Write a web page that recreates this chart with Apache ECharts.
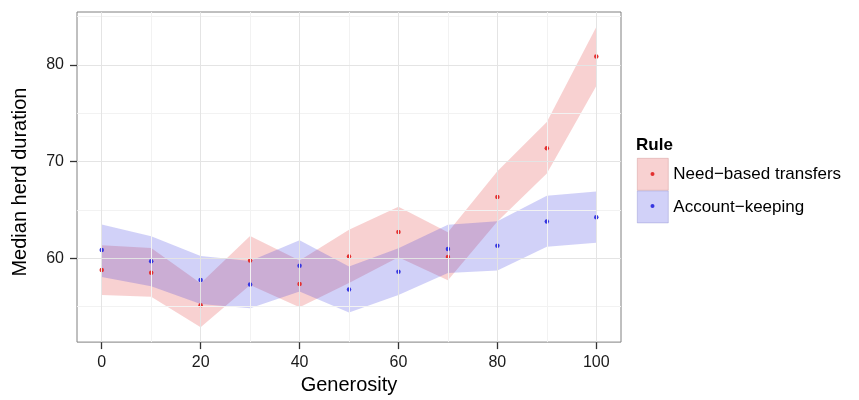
<!DOCTYPE html>
<html>
<head>
<meta charset="utf-8">
<script src="https://cdn.jsdelivr.net/npm/echarts@6/dist/echarts.min.js"></script>
<style>
html,body{margin:0;padding:0;background:#fff;}
#chart{width:859px;height:400px;}
</style>
</head>
<body>
<div id="chart"></div>
<script>
// ---- data ----
const generosity = [0, 10, 20, 30, 40, 50, 60, 70, 80, 90, 100];
const needMedian = [58.78, 58.51, 55.15, 59.77, 57.35, 60.20, 62.72, 60.14, 66.35, 71.37, 80.85];
const needLower  = [56.20, 56.03, 52.87, 57.24, 54.93, 57.45, 60.10, 57.73, 63.80, 68.76, 77.80];
const needUpper  = [61.36, 61.06, 57.43, 62.30, 59.77, 62.95, 65.34, 62.70, 69.00, 74.09, 83.90];
const acctMedian = [60.85, 59.70, 57.76, 57.29, 59.22, 56.78, 58.61, 60.96, 61.29, 63.80, 64.25];
const acctLower  = [58.07, 57.12, 55.28, 54.85, 56.57, 54.40, 56.20, 58.47, 58.75, 61.20, 61.60];
const acctUpper  = [63.50, 62.28, 60.24, 59.73, 61.87, 59.16, 61.05, 63.46, 63.83, 66.46, 66.90];
const xTicks = [0, 20, 40, 60, 80, 100];
const xMinor = [10, 30, 50, 70, 90];
const yTicks = [60, 70, 80];
const yMinor = [55, 65, 75, 85];
const seriesNames = ['Need\u2212based transfers', 'Account\u2212keeping'];

const FONT = "'Liberation Sans', Arial, sans-serif";
const bandRed = 'rgba(225,45,45,0.22)';
const bandBlue = 'rgba(45,45,225,0.22)';
const ptRed = '#e33030';
const ptBlue = '#3636e0';

function bandRenderer(lower, upper, color) {
  return function (params, api) {
    const pts = [];
    for (let i = 0; i < generosity.length; i++) pts.push(api.coord([generosity[i], upper[i]]));
    for (let i = generosity.length - 1; i >= 0; i--) pts.push(api.coord([generosity[i], lower[i]]));
    return { type: 'polygon', shape: { points: pts }, style: { fill: color } };
  };
}

const major = { color: '#e4e4e4', width: 1, type: 'solid' };
const minor = { color: '#f2f2f2', width: 1, type: 'solid' };
const gridLines = [];
yMinor.forEach(v => gridLines.push({ yAxis: v, lineStyle: minor }));
xMinor.forEach(v => gridLines.push({ xAxis: v, lineStyle: minor }));
yTicks.forEach(v => gridLines.push({ yAxis: v, lineStyle: major }));
xTicks.forEach(v => gridLines.push({ xAxis: v, lineStyle: major }));

const chart = echarts.init(document.getElementById('chart'), null, { renderer: 'canvas' });
chart.setOption({
  animation: false,
  backgroundColor: '#fff',
  textStyle: { fontFamily: FONT },
  title: {
    text: 'Rule', left: 636, top: 137, padding: 0,
    textStyle: { fontFamily: FONT, fontSize: 17, fontWeight: 'bold', color: '#000' }
  },
  legend: [
    {
      orient: 'vertical', left: 637, top: 158, padding: 0, itemWidth: 31, itemHeight: 32, itemGap: 0,
      selectedMode: false, icon: 'rect',
      textStyle: { fontFamily: FONT, fontSize: 17, color: '#000', lineHeight: 32 },
      data: [
        { name: seriesNames[0], itemStyle: { color: 'rgba(225,45,45,0.22)', borderColor: 'rgba(200,130,130,0.6)', borderWidth: 0.6 } },
        { name: seriesNames[1], itemStyle: { color: 'rgba(45,45,225,0.22)', borderColor: 'rgba(130,130,200,0.6)', borderWidth: 0.6 } }
      ]
    },
    {
      orient: 'vertical', left: 650.5, top: 158, padding: 0, itemWidth: 4, itemHeight: 4, itemGap: 0,
      selectedMode: false, icon: 'circle',
      textStyle: { fontFamily: FONT, fontSize: 17, color: 'rgba(0,0,0,0)', lineHeight: 32 },
      data: [
        { name: seriesNames[0], itemStyle: { color: ptRed, borderWidth: 0 } },
        { name: seriesNames[1], itemStyle: { color: ptBlue, borderWidth: 0 } }
      ]
    }
  ],
  grid: {
    left: 77, right: 238, top: 12, bottom: 53,
    show: true, borderColor: '#808080', borderWidth: 1, backgroundColor: '#fff'
  },
  xAxis: {
    type: 'value', min: -5, max: 105,
    axisLine: { show: false, onZero: false },
    axisTick: { show: true, customValues: xTicks, length: 7, lineStyle: { color: '#333', width: 1.3 } },
    axisLabel: { customValues: xTicks, fontSize: 16, color: '#1a1a1a', margin: 12, fontFamily: FONT },
    splitLine: { show: false },
    name: 'Generosity', nameLocation: 'middle', nameGap: 28,
    nameTextStyle: { fontSize: 20, color: '#000', fontFamily: FONT }
  },
  yAxis: {
    type: 'value', min: 51.34, max: 85.46,
    axisLine: { show: false, onZero: false },
    axisTick: { show: true, customValues: yTicks, length: 7, lineStyle: { color: '#333', width: 1.3 } },
    axisLabel: { customValues: yTicks, fontSize: 16, color: '#1a1a1a', margin: 13, fontFamily: FONT },
    splitLine: { show: false },
    name: 'Median herd duration', nameLocation: 'middle', nameGap: 47, nameRotate: 90,
    nameTextStyle: { fontSize: 20, color: '#000', fontFamily: FONT, padding: [0, 10, 0, 0] }
  },
  series: [
    {
      type: 'line', name: '_grid', data: [], z: 1, silent: true,
      markLine: { silent: true, symbol: 'none', label: { show: false }, animation: false,
        lineStyle: { type: 'solid' }, data: gridLines }
    },
    {
      type: 'custom', name: seriesNames[0], z: 2, silent: true,
      renderItem: bandRenderer(needLower, needUpper, bandRed),
      data: [[generosity[0], needMedian[0]]]
    },
    {
      type: 'custom', name: seriesNames[1], z: 2, silent: true,
      renderItem: bandRenderer(acctLower, acctUpper, bandBlue),
      data: [[generosity[0], acctMedian[0]]]
    },
    {
      type: 'scatter', name: seriesNames[0], z: 3, symbol: 'circle', symbolSize: 4.5,
      itemStyle: { color: ptRed, borderWidth: 0, opacity: 1 },
      data: generosity.map((g, i) => [g, needMedian[i]])
    },
    {
      type: 'scatter', name: seriesNames[1], z: 3, symbol: 'circle', symbolSize: 4.5,
      itemStyle: { color: ptBlue, borderWidth: 0, opacity: 1 },
      data: generosity.map((g, i) => [g, acctMedian[i]])
    }
  ]
});
</script>
</body>
</html>
